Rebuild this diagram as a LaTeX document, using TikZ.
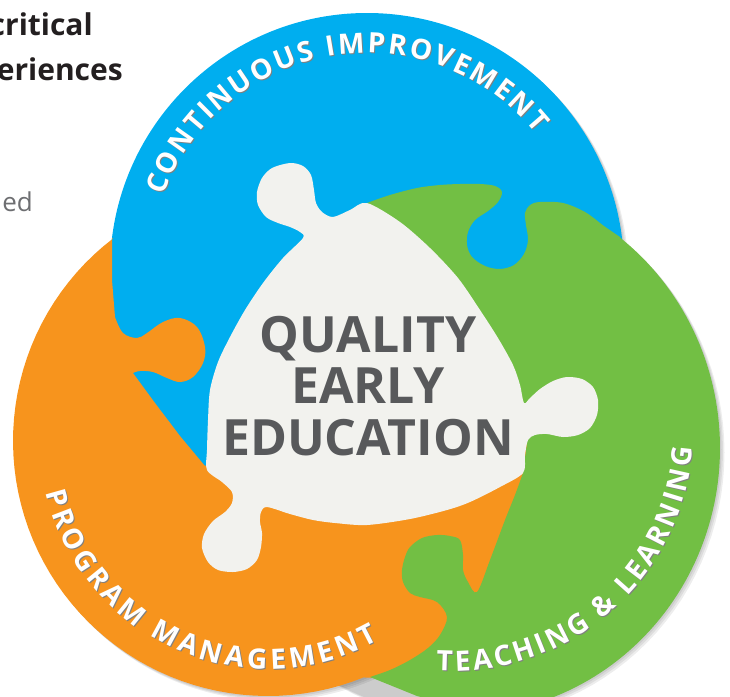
\documentclass[tikz,border=0pt]{standalone}
\usepackage{fontspec}
\newfontfamily\osans{Open Sans}
\usetikzlibrary{decorations.text}
\definecolor{cblue}{RGB}{0,174,239}
\definecolor{corange}{RGB}{247,148,29}
\definecolor{cgreen}{RGB}{114,191,68}
\definecolor{cpiece}{RGB}{242,242,238}
\definecolor{cgray}{RGB}{88,89,91}
\definecolor{cdark}{RGB}{35,31,32}
\definecolor{clight}{RGB}{109,110,113}
\newcommand\arcfont{\osans\bfseries\fontsize{28}{28}\selectfont}
\begin{document}
\begin{tikzpicture}[x=1pt,y=-1pt,
  arctext/.style={decorate, decoration={text along path, text align={fit to path}, text color=#1}},
  bigtext/.style={anchor=base, inner sep=0pt, text=cgray, font=\osans\bfseries\fontsize{50}{50}\selectfont},
  sidetext/.style={anchor=base east, inner sep=0pt},
  softshadow/.style={fill=black, opacity=0.07}]
\useasboundingbox (0,0) rectangle (730,696);

% soft shadows of the outer rims
\foreach \d in {1.5,3,4.5}{
  \fill[softshadow, shift={(\d,\d)}] (367,270) circle[radius=257pt];
  \fill[softshadow, shift={(\d,\d)}] (268,441) circle[radius=255pt];
  \fill[softshadow, shift={(\d,\d)}] plot[domain=0:360, samples=120, variable=\t] ({460+260*cos(\t)},{448-267*sin(\t)}) -- cycle;
}

% blue piece
\fill[cblue] (367,270) circle[radius=257pt];

% orange piece
\fill[corange] (112,238)
  -- plot[domain=127.5:292, samples=60, variable=\t] ({268+255*cos(\t)},{441-255*sin(\t)})
  -- (430,680) -- (500,560) -- (540,470) -- (500,380) -- (300,350) -- (230,450) -- (205,466)
  -- (180,436) -- (155,403) -- (133,373)
  -- plot[smooth, tension=0.6] coordinates {(133,373) (140,371) (153,372) (167,378) (180,382) (193,377) (203,363) (205,347) (197,327) (180,318) (163,322) (147,333) (137,338) (123,333) (115,317)}
  -- (112,280) -- cycle;

% green piece
\fill[cgreen] (420,300) -- (367,203)
  -- plot[smooth, tension=0.55] coordinates {(367,203) (390,195) (417,188) (440,185) (460,184) (480,184) (495,186) (502,192) (498,202) (488,211) (475,220) (468,232) (467,245) (472,257) (485,266) (500,269) (514,265) (524,254) (528,240) (526,225) (525,213) (530,205) (540,202) (563,203) (585,212) (604,226) (620,237)}
  -- plot[domain=52:-75, samples=80, variable=\t] ({460+260*cos(\t)},{448-267*sin(\t)})
  -- (470,710) -- (417,696) -- (370,677)
  -- plot[smooth, tension=0.55] coordinates {(370,677) (390,670) (410,660) (428,648) (440,635) (447,617) (437,602) (420,597) (410,593) (403,582) (402,570) (405,557) (410,547) (422,538) (437,535) (450,536) (460,540) (463,555) (463,570) (468,582) (477,592) (490,560) (505,520) (515,495) (523,473)}
  -- (530,420) -- (480,330) -- cycle;

% central piece
\fill[cpiece] plot[smooth cycle, tension=0.5] coordinates {
  (367,203) (400,222) (430,248) (458,278) (480,310) (498,338) (513,365) (520,385) (524,403)
  (530,398) (540,389) (553,381) (567,377) (582,379) (593,387) (598,400) (597,415) (590,428) (578,435) (563,437) (547,434) (535,435) (528,440)
  (525,455) (523,473)
  (500,487) (470,502) (447,510) (410,519) (367,525) (335,523) (313,520) (290,514) (267,507)
  (261,512) (260,522) (262,533) (261,547) (257,560) (247,569) (233,572) (218,570) (208,562) (202,548) (204,534) (213,521) (225,512) (232,503) (232,492) (222,482) (207,470)
  (207,450) (208,420) (210,390) (218,362) (230,337) (245,310) (263,283) (283,258) (303,238)
  (300,232) (290,227) (278,223) (266,217) (258,205) (257,192) (262,178) (272,168) (290,163) (303,166) (311,175) (314,190) (316,203) (322,212) (333,217)
  (350,210)};

% central title
\node[bigtext] (q1) at (368,352) {QUALITY};
\node[bigtext] (q2) at (368,403) {EARLY};
\node[bigtext] (q3) at (368,455) {EDUCATION};

% curved labels: dark shadow, then white
\path[arctext=black!50, shift={(1,1)}, decoration={text={|\arcfont|CONTINUOUS IMPROVEMENT}}]
  plot[domain=160:39, samples=100, variable=\t] ({367+217*cos(\t)},{270-217*sin(\t)});
\path[arctext=white, decoration={text={|\arcfont|CONTINUOUS IMPROVEMENT}}]
  plot[domain=160:39, samples=100, variable=\t] ({367+217*cos(\t)},{270-217*sin(\t)});

\path[arctext=black!50, shift={(1,1)}, decoration={text={|\arcfont|PROGRAM MANAGEMENT}}]
  plot[domain=193:299, samples=100, variable=\t] ({268+228*cos(\t)},{441-228*sin(\t)});
\path[arctext=white, decoration={text={|\arcfont|PROGRAM MANAGEMENT}}]
  plot[domain=193:299, samples=100, variable=\t] ({268+228*cos(\t)},{441-228*sin(\t)});

\path[arctext=black!50, shift={(1,1)}, decoration={text={|\arcfont|TEACHING {\&} LEARNING}}]
  plot[domain=266:356, samples=100, variable=\t] ({453+240*cos(\t)},{431-240*sin(\t)});
\path[arctext=white, decoration={text={|\arcfont|TEACHING {\&} LEARNING}}]
  plot[domain=266:356, samples=100, variable=\t] ({453+240*cos(\t)},{431-240*sin(\t)});

% cut-off page text
\node[sidetext, text=cdark, font=\osans\bfseries\fontsize{30}{30}\selectfont] (s1) at (93,35) {critical};
\node[sidetext, text=cdark, font=\osans\bfseries\fontsize{30}{30}\selectfont] (s2) at (123,80) {eriences};
\node[sidetext, text=clight, font=\osans\fontsize{26}{26}\selectfont] (s3) at (33,211) {ed};
\end{tikzpicture}
\end{document}
